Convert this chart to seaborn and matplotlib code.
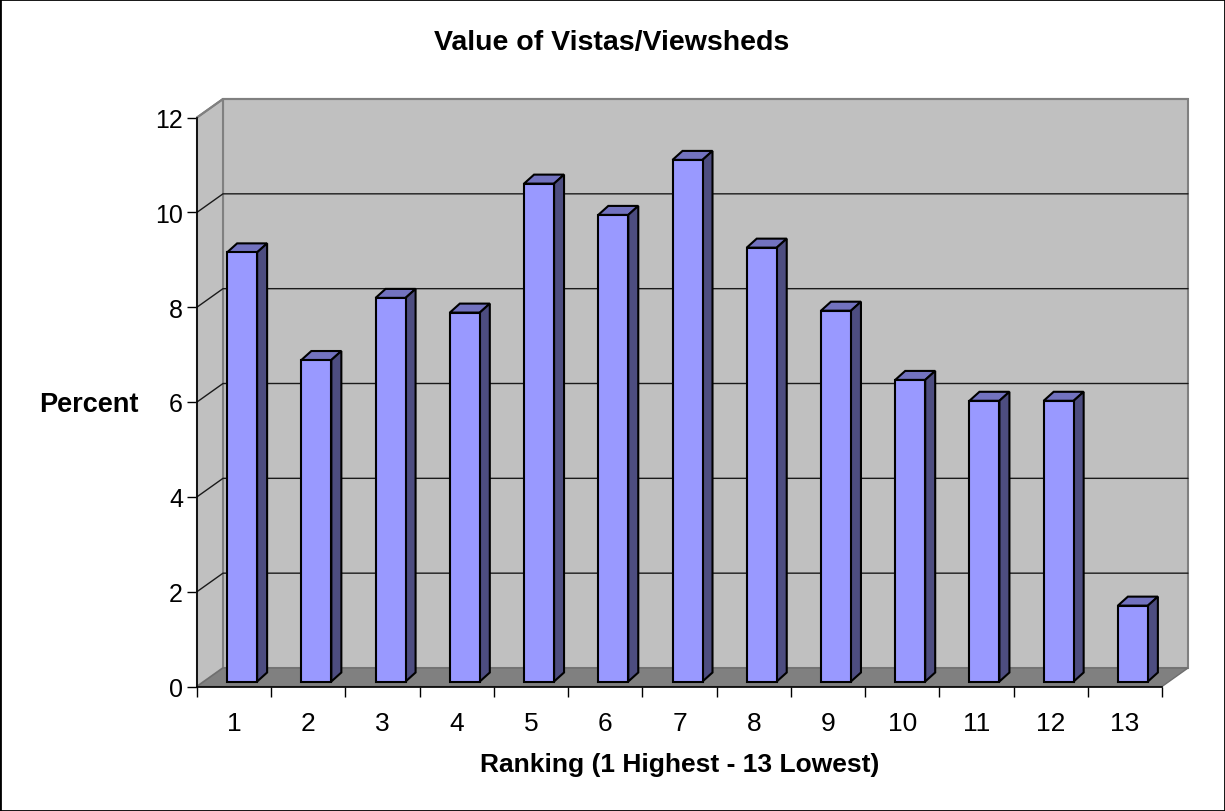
import matplotlib
matplotlib.use('Agg')
import matplotlib.pyplot as plt
from matplotlib.patches import Polygon, Rectangle
import pandas as pd
import seaborn as sns

# --- data ---
rankings = ['1', '2', '3', '4', '5', '6', '7', '8', '9', '10', '11', '12', '13']
percent = [9.05, 6.78, 8.09, 7.78, 10.50, 9.84, 11.00, 9.15, 7.82, 6.36, 5.92, 5.92, 1.60]
y_ticks = [0, 2, 4, 6, 8, 10, 12]

# --- colours ---
WALL = '#C0C0C0'
FLOOR = '#808080'
BAR = '#9999FF'
BAR_TOP = '#7272BF'
BAR_SIDE = '#4D4D80'

W, H = 1225, 812
PX_X = 965 / 13   # pixels per category
PX_Y = 569 / 12   # pixels per percent

# 3D look: wall depth and bar depth, in pixels
WALL_DX, WALL_DY = 26 / PX_X, 18.5 / PX_Y
BAR_DX, BAR_DY = 10 / PX_X, 9 / PX_Y
SHIFT_X, SHIFT_Y = 8 / PX_X, 5 / PX_Y

sns.set_theme(style='white')
plt.rcParams['font.family'] = ['Liberation Sans', 'DejaVu Sans']

fig = plt.figure(figsize=(W / 100, H / 100), dpi=100, facecolor='white')
ax = fig.add_axes([197 / W, (H - 687.5) / H, 965 / W, 569 / H])
ax.patch.set_visible(False)

df = pd.DataFrame({'ranking': rankings, 'percent': percent})
sns.barplot(data=df, x='ranking', y='percent', color=BAR, saturation=1, width=30 / PX_X,
            edgecolor='black', linewidth=1.5, zorder=5, ax=ax)

x0, x1 = -0.5, 12.5
ax.set_xlim(x0, x1)
ax.set_ylim(0, 12)

# walls and floor
ax.add_patch(Polygon([(x0 + WALL_DX, WALL_DY), (x1 + WALL_DX, WALL_DY), (x1 + WALL_DX, 12 + WALL_DY),
                      (x0 + WALL_DX, 12 + WALL_DY)], fc=WALL, ec=FLOOR, lw=1.5, clip_on=False, zorder=1))
ax.add_patch(Polygon([(x0, 0), (x0 + WALL_DX, WALL_DY), (x0 + WALL_DX, 12 + WALL_DY), (x0, 12)],
                     fc=WALL, ec=FLOOR, lw=1.5, clip_on=False, zorder=1))
ax.add_patch(Polygon([(x0, 0), (x1, 0), (x1 + WALL_DX, WALL_DY), (x0 + WALL_DX, WALL_DY)],
                     fc=FLOOR, ec='#6E6E6E', lw=1, clip_on=False, zorder=2))

# gridlines on back and side wall
for t in y_ticks[1:-1]:
    ax.plot([x0, x0 + WALL_DX, x1 + WALL_DX], [t, t + WALL_DY, t + WALL_DY], color='#1A1A1A', lw=1,
            clip_on=False, zorder=3)
ax.plot([x0, x0 + WALL_DX, x1 + WALL_DX], [12, 12 + WALL_DY, 12 + WALL_DY], color=FLOOR, lw=1.5,
        clip_on=False, zorder=3)

# move the bars off the front edge and give them a top and a side
for bar in ax.patches:
    if not isinstance(bar, Rectangle):
        continue
    bar.set_x(bar.get_x() + SHIFT_X)
    bar.set_y(SHIFT_Y)
    bar.set_clip_on(False)
    bx, bw, bh = bar.get_x(), bar.get_width(), bar.get_height()
    top = bh + SHIFT_Y
    ax.add_patch(Polygon([(bx, top), (bx + BAR_DX, top + BAR_DY), (bx + bw + BAR_DX, top + BAR_DY), (bx + bw, top)],
                         fc=BAR_TOP, ec='black', lw=1.5, clip_on=False, zorder=4))
    ax.add_patch(Polygon([(bx + bw, SHIFT_Y), (bx + bw + BAR_DX, SHIFT_Y + BAR_DY),
                          (bx + bw + BAR_DX, top + BAR_DY), (bx + bw, top)],
                         fc=BAR_SIDE, ec='black', lw=1.5, clip_on=False, zorder=4))

for side in ['top', 'right']:
    ax.spines[side].set_visible(False)
for side in ['left', 'bottom']:
    ax.spines[side].set_color('black')
    ax.spines[side].set_linewidth(1.2)
    ax.spines[side].set_zorder(6)

ax.set_yticks(y_ticks)
ax.set_xticks(range(13))
ax.set_xticklabels(rankings)
ax.set_xticks([x0 + i for i in range(14)], minor=True)
ax.tick_params(axis='x', which='major', length=0, labelsize=19, pad=18, colors='black')
ax.tick_params(axis='x', which='minor', length=7, width=1, color='black', bottom=True)
ax.tick_params(axis='y', length=7, width=1, color='black', labelsize=18, pad=3, left=True, labelcolor='black')
ax.xaxis.get_minor_ticks()[-1].tick1line.set_color(FLOOR)

ax.set_xlabel('')
ax.set_ylabel('')
fig.text(612 / W, 1 - 43 / H, 'Value of Vistas/Viewsheds', ha='center', va='center', fontsize=20.5,
         fontweight='bold', color='black')
fig.text(680 / W, 1 - 765 / H, 'Ranking (1 Highest - 13 Lowest)', ha='center', va='center', fontsize=19,
         fontweight='bold', color='black')
fig.text(89 / W, 1 - 405 / H, 'Percent', ha='center', va='center', fontsize=19.5,
         fontweight='bold', color='black')

# chart border
fig.add_artist(Rectangle((0, 0), 1, 1, transform=fig.transFigure, fill=False, ec='black', lw=2))

plt.savefig('out.png', dpi=100)
plt.close()
